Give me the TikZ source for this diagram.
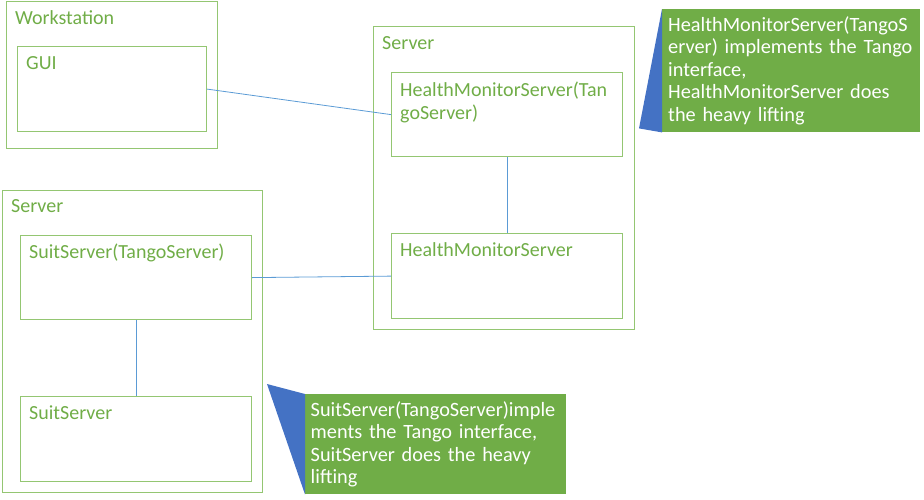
\documentclass[tikz,border=0pt]{standalone}
\usepackage{fontspec}
\setmainfont{Carlito}
\usetikzlibrary{positioning}
\definecolor{boxgreen}{HTML}{94C672}
\definecolor{txtgreen}{HTML}{70AD47}
\definecolor{notegreen}{HTML}{70AD47}
\definecolor{linkblue}{HTML}{5B9BD5}
\definecolor{wedgeblue}{HTML}{4472C4}
\tikzset{frame/.style={draw=boxgreen,line width=1.2pt,inner sep=0pt,anchor=north west},lbl/.style={text=txtgreen,inner sep=0pt,anchor=base west,font=\fontsize{20}{22.5}\selectfont},link/.style={draw=linkblue,line width=0.8pt},note/.style={fill=notegreen,text=white,inner sep=0pt,anchor=north west,align=left,font=\fontsize{20.3}{22.5}\selectfont}}
\begin{document}
\begin{tikzpicture}[x=1pt,y=-1pt]
\useasboundingbox (0,0) rectangle (924,499);
% hosts
\node[frame,minimum width=211pt,minimum height=147pt] (ws) at (6,1) {};
\node[frame,minimum width=261pt,minimum height=303pt] (srvA) at (373,26) {};
\node[frame,minimum width=260pt,minimum height=302pt] (srvB) at (2,190) {};
% components
\node[frame,minimum width=189pt,minimum height=85pt] (gui) at (17,46) {};
\node[frame,minimum width=231pt,minimum height=84pt] (hmst) at (391,72) {};
\node[frame,minimum width=231pt,minimum height=85pt] (hms) at (391,233) {};
\node[frame,minimum width=231pt,minimum height=84pt] (suitt) at (20,235) {};
\node[frame,minimum width=231pt,minimum height=85pt] (suit) at (20,396) {};
% labels
\node[lbl] (wsl) at (15,24) {Workstation};
\node[lbl] (guil) at (26,69) {GUI};
\node[lbl] (srvAl) at (382,49) {Server};
\node[lbl,align=left,anchor=north west] (hmstl) at (400,82) {HealthMonitorServer(Tan\\goServer)};
\node[lbl] (hmsl) at (400,256) {HealthMonitorServer};
\node[lbl] (srvBl) at (11,212) {Server};
\node[lbl] (suittl) at (29,258) {SuitServer(TangoServer)};
\node[lbl] (suitl) at (29,419) {SuitServer};
% links
\draw[link] (gui.east) -- (hmst.west);
\draw[link] (hmst.south) -- (hms.north);
\draw[link] (suitt.east) -- (hms.west);
\draw[link] (suitt.south) -- (suit.north);
% notes
\node[note,minimum width=258pt,minimum height=123pt,text width=246pt] (noteA) at (662,9) {HealthMonitorServer(TangoS\\erver) implements the Tango\\interface,\\HealthMonitorServer does\\the heavy lifting};
\fill[wedgeblue] (noteA.north west) -- (noteA.south west) -- ++(-23,-4) -- cycle;
\node[note,minimum width=261pt,minimum height=100pt,text width=250pt] (noteB) at (305,394) {SuitServer(TangoServer)imple\\ments the Tango interface,\\SuitServer does the heavy\\lifting};
\fill[wedgeblue] (noteB.north west) -- ++(-38,-10) -- (noteB.south west) -- cycle;
\end{tikzpicture}
\end{document}
